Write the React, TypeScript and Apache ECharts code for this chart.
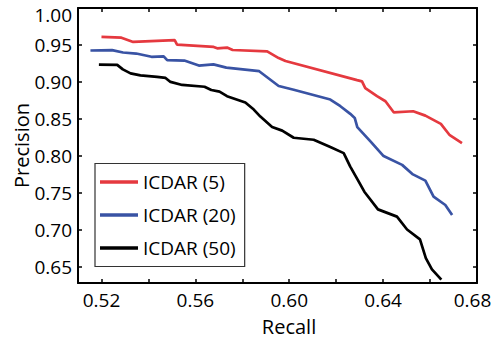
import React, { useEffect, useRef } from "react";
import * as echarts from "echarts";

const seriesNames = ["ICDAR (5)", "ICDAR (20)", "ICDAR (50)"];
const seriesColors = ["#e5393f", "#3953a4", "#000000"];

const recall5 = [0.520, 0.5285, 0.5335, 0.5512, 0.5522, 0.5678, 0.5693, 0.5735, 0.5759, 0.5906, 0.5955, 0.5984, 0.6289, 0.6310, 0.6324, 0.6374, 0.6410, 0.6445, 0.6528, 0.6580, 0.6646, 0.6684, 0.6736];
const precision5 = [0.9609, 0.9598, 0.9541, 0.9565, 0.9505, 0.9473, 0.9455, 0.9465, 0.9432, 0.9414, 0.9323, 0.9283, 0.9024, 0.9007, 0.8916, 0.8807, 0.8739, 0.8589, 0.8603, 0.8544, 0.8432, 0.8279, 0.8173];

const recall20 = [0.5153, 0.5245, 0.5292, 0.5348, 0.5413, 0.5465, 0.5480, 0.5553, 0.5615, 0.5677, 0.5732, 0.5872, 0.5955, 0.6019, 0.6175, 0.6218, 0.6260, 0.6279, 0.6290, 0.6346, 0.6402, 0.6481, 0.6527, 0.6580, 0.6615, 0.6665, 0.6694];
const precision20 = [0.9425, 0.9431, 0.9398, 0.9384, 0.9340, 0.9346, 0.9295, 0.9289, 0.9221, 0.9238, 0.9193, 0.9145, 0.8945, 0.8894, 0.8762, 0.8671, 0.8568, 0.8513, 0.8388, 0.8195, 0.7997, 0.7878, 0.7749, 0.7665, 0.7448, 0.7335, 0.7199];

const recall50 = [0.5189, 0.5267, 0.5291, 0.5324, 0.5366, 0.5437, 0.5473, 0.5494, 0.5544, 0.5639, 0.5668, 0.5703, 0.5735, 0.5813, 0.5849, 0.5877, 0.5927, 0.5970, 0.6019, 0.6104, 0.6175, 0.6232, 0.6260, 0.6292, 0.6320, 0.6378, 0.6459, 0.6502, 0.6557, 0.6582, 0.6608, 0.6648];
const precision50 = [0.9235, 0.9231, 0.9170, 0.9115, 0.9088, 0.9068, 0.9054, 0.9000, 0.8959, 0.8935, 0.8891, 0.8868, 0.8807, 0.8721, 0.8626, 0.8531, 0.8391, 0.8341, 0.8245, 0.8218, 0.8119, 0.8037, 0.7855, 0.7675, 0.7515, 0.7276, 0.7178, 0.7004, 0.6870, 0.6617, 0.6465, 0.6325];

const xTicks = [0.52, 0.54, 0.56, 0.58, 0.60, 0.62, 0.64, 0.66, 0.68];
const xLabels = [0.52, 0.56, 0.60, 0.64, 0.68];
const yTicks = [0.65, 0.70, 0.75, 0.80, 0.85, 0.90, 0.95, 1.0];
const yLabels = [0.65, 0.70, 0.75, 0.80, 0.85, 0.90, 0.95, 1.0];

const xMin = 0.51;
const xMax = 0.68;
const yMin = 0.628;
const yMax = 1.0;

const FONT = "Open Sans";

const pairs = (xs: number[], ys: number[]) => xs.map((x, i) => [x, ys[i]]);

export default function App() {
  const ref = useRef<HTMLDivElement>(null);
  useEffect(() => {
    if (!ref.current) return;
    const chart = echarts.init(ref.current, undefined, { renderer: "svg" });
    const axisLine = { show: true, onZero: false, lineStyle: { color: "#000", width: 2 } };
    const tickStyle = { color: "#000", width: 1.5 };
    const labelStyle = { fontSize: 19, lineHeight: 15, color: "#000", fontFamily: FONT };
    const data = [pairs(recall5, precision5), pairs(recall20, precision20), pairs(recall50, precision50)];
    chart.setOption({
      animation: false,
      backgroundColor: "#fff",
      grid: { left: 78, right: 17, top: 8, bottom: 58, containLabel: false, outerBoundsMode: "none" },
      legend: {
        show: true,
        orient: "vertical",
        left: 95,
        top: 163.5,
        data: seriesNames,
        icon: "rect",
        itemWidth: 38,
        itemHeight: 3.5,
        itemGap: 14,
        padding: [9, 9, 9, 5],
        borderColor: "#333",
        borderWidth: 1.2,
        backgroundColor: "#fff",
        textStyle: { fontSize: 19, lineHeight: 19, color: "#000", fontFamily: FONT },
      },
      xAxis: [
        {
          type: "value",
          position: "bottom",
          min: xMin,
          max: xMax,
          name: "Recall",
          nameLocation: "middle",
          nameGap: 33,
          nameMoveOverlap: false,
          nameTextStyle: { fontSize: 20, color: "#000", fontFamily: FONT, padding: [0, 0, 0, 23] },
          axisLine,
          axisTick: { show: true, inside: true, length: 4, lineStyle: tickStyle, customValues: xTicks },
          axisLabel: {
            ...labelStyle,
            margin: 9,
            customValues: xLabels,
            formatter: (v: number) => (v >= 0.679 ? "{end|" + v.toFixed(2) + "}" : v.toFixed(2)),
            rich: {
              end: { fontSize: 19, lineHeight: 15, color: "#000", fontFamily: FONT, padding: [0, 9, 0, 0] },
            },
          },
          splitLine: { show: false },
        },
        {
          type: "value",
          position: "top",
          min: xMin,
          max: xMax,
          axisLine,
          axisTick: { show: true, inside: true, length: 4, lineStyle: tickStyle, customValues: xTicks },
          axisLabel: { show: false },
          splitLine: { show: false },
        },
      ],
      yAxis: [
        {
          type: "value",
          position: "left",
          min: yMin,
          max: yMax,
          name: "Precision",
          nameLocation: "middle",
          nameGap: 47,
          nameMoveOverlap: false,
          nameRotate: 90,
          nameTextStyle: { fontSize: 20, color: "#000", fontFamily: FONT },
          axisLine,
          axisTick: { show: true, inside: true, length: 4, lineStyle: tickStyle, customValues: yTicks },
          axisLabel: {
            ...labelStyle,
            margin: 6,
            customValues: yLabels,
            formatter: (v: number) => (v >= 0.999 ? "{top|" + v.toFixed(2) + "}" : v.toFixed(2)),
            rich: {
              top: { fontSize: 19, lineHeight: 15, color: "#000", fontFamily: FONT, padding: [14, 0, 0, 0] },
            },
          },
          splitLine: { show: false },
        },
        {
          type: "value",
          position: "right",
          min: yMin,
          max: yMax,
          axisLine,
          axisTick: { show: true, inside: true, length: 4, lineStyle: tickStyle, customValues: yTicks },
          axisLabel: { show: false },
          splitLine: { show: false },
        },
      ],
      series: seriesNames.map((name, i) => ({
        name,
        type: "line",
        xAxisIndex: 0,
        yAxisIndex: 0,
        data: data[i],
        symbol: "none",
        showSymbol: false,
        color: seriesColors[i],
        lineStyle: { color: seriesColors[i], width: 2.7 },
      })),
    });
    return () => chart.dispose();
  }, []);
  return <div ref={ref} style={{ width: 494, height: 341, position: "absolute", left: 0, top: 0 }} />;
}
